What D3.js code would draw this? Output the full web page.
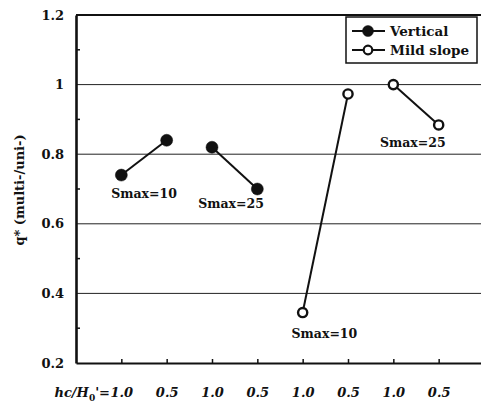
<!DOCTYPE html>
<html><head><meta charset="utf-8">
<script src="https://cdn.jsdelivr.net/npm/d3@7"></script>
<style>
body{margin:0;background:#fff;}
</style></head>
<body><svg id="c" width="481" height="405" style="font-family:'DejaVu Serif';font-weight:bold;"></svg>
<script>
// ---- data ----
const xTickLabels = ["1.0","0.5","1.0","0.5","1.0","0.5","1.0","0.5"];
const xPositions = [1,2,3,4,5,6,7,8];
const verticalSmax10 = [0.74, 0.84];
const verticalSmax25 = [0.82, 0.70];
const mildSmax10 = [0.345, 0.973];
const mildSmax25 = [1.0, 0.884];
const yTicks = [0.2, 0.4, 0.6, 0.8, 1, 1.2];
const yMinorTicks = [0.3, 0.5, 0.7, 0.9, 1.1];
const groups = [
  {name:"Vertical", pos:[1,2], values:verticalSmax10, label:"Smax=10"},
  {name:"Vertical", pos:[3,4], values:verticalSmax25, label:"Smax=25"},
  {name:"Mild slope", pos:[5,6], values:mildSmax10, label:"Smax=10"},
  {name:"Mild slope", pos:[7,8], values:mildSmax25, label:"Smax=25"}
];

const FONT = "'DejaVu Serif', serif";
const svg = d3.select("#c");
const mLeft=76, mRight=484, mTop=15, mBottom=363;
const x = d3.scaleLinear().domain([0,9]).range([mLeft,mRight]);
const y = d3.scaleLinear().domain([0.2,1.2]).range([mBottom,mTop]);

// gridlines
svg.append("g").selectAll("line").data(yTicks.filter(d=>d>0.2&&d<1.2)).join("line")
  .attr("x1",mLeft).attr("x2",481).attr("y1",d=>y(d)).attr("y2",d=>y(d))
  .attr("stroke","#222").attr("stroke-width",1);
// top border
svg.append("line").attr("x1",mLeft).attr("x2",481).attr("y1",y(1.2)).attr("y2",y(1.2))
  .attr("stroke","#111").attr("stroke-width",2.2);

// y axis
const yAxis = d3.axisLeft(y).tickValues(yTicks).tickSize(0).tickPadding(12)
  .tickFormat(d=>d===1?"1":d3.format(".1f")(d));
const gy = svg.append("g").attr("transform",`translate(${mLeft},0)`).call(yAxis);
gy.attr("font-family",null).attr("font-size",null);
gy.select(".domain").attr("stroke","#111").attr("stroke-width",2.6);
gy.selectAll("text").style("font-family",FONT).style("font-weight","bold").style("font-size","13px").attr("fill","#111");
// minor inward ticks
svg.append("g").selectAll("line").data(yMinorTicks).join("line")
  .attr("x1",mLeft).attr("x2",mLeft+4).attr("y1",d=>y(d)).attr("y2",d=>y(d))
  .attr("stroke","#111").attr("stroke-width",1.5);

// x axis
const xAxis = d3.axisBottom(x).tickValues(xPositions).tickSizeInner(-4).tickSizeOuter(0).tickPadding(25)
  .tickFormat((d,i)=>xTickLabels[i]);
const gx = svg.append("g").attr("transform",`translate(0,${mBottom})`).call(xAxis);
gx.attr("font-family",null).attr("font-size",null);
gx.select(".domain").attr("stroke","#111").attr("stroke-width",2.2);
gx.selectAll(".tick line").attr("stroke","#111").attr("stroke-width",1.5);
gx.selectAll("text").style("font-family",FONT).style("font-weight","bold")
  .style("font-size","13px").style("font-style","italic").attr("fill","#111");
// prefix for first tick label
const firstTxt = gx.select(".tick text").node();
const fw = firstTxt.getComputedTextLength();
const pre = svg.append("text").attr("x",x(1)-fw/2).attr("y",397)
  .attr("text-anchor","end").style("font-family",FONT).style("font-weight","bold")
  .style("font-size","13px").style("font-style","italic").attr("fill","#111");
pre.append("tspan").text("hc/H");
pre.append("tspan").text("0").attr("dy",4).style("font-size","9px").style("font-style","normal");
pre.append("tspan").text("'=").attr("dy",-4);

// y label
svg.append("text").attr("transform","translate(24,190) rotate(-90)")
  .attr("text-anchor","middle").style("font-family",FONT).style("font-weight","bold")
  .style("font-size","13px").attr("fill","#111")
  .text("q* (multi-/uni-)");

// data lines and markers
const line = d3.line().x(d=>x(d[0])).y(d=>y(d[1]));
groups.forEach(g=>{
  const pts = g.pos.map((p,i)=>[p,g.values[i]]);
  svg.append("path").attr("d",line(pts)).attr("fill","none").attr("stroke","#111").attr("stroke-width",2);
  svg.append("g").selectAll("circle").data(pts).join("circle")
    .attr("cx",d=>x(d[0])).attr("cy",d=>y(d[1]))
    .attr("r",g.name==="Vertical"?6:4.6)
    .attr("fill",g.name==="Vertical"?"#111":"#fff")
    .attr("stroke","#111").attr("stroke-width",g.name==="Vertical"?0.5:2.4);
});

// Smax annotations (anchor positions in data units)
const ann = [
  {g:0, xv:1.5, yv:0.674},
  {g:1, xv:3.42, yv:0.645},
  {g:2, xv:5.48, yv:0.272},
  {g:3, xv:7.43, yv:0.821}
];
svg.append("g").selectAll("text").data(ann).join("text")
  .attr("x",d=>x(d.xv)).attr("y",d=>y(d.yv))
  .attr("text-anchor","middle").style("font-family",FONT).style("font-weight","bold")
  .style("font-size","12.5px").attr("fill","#111")
  .text(d=>groups[d.g].label);

// legend
const lg = svg.append("g");
lg.append("rect").attr("x",346).attr("y",17).attr("width",131).attr("height",46)
  .attr("fill","#fff").attr("stroke","#111").attr("stroke-width",1.5);
const legendItems = [{name:"Vertical", yy:31},{name:"Mild slope", yy:50}];
legendItems.forEach(it=>{
  lg.append("line").attr("x1",352).attr("x2",385).attr("y1",it.yy).attr("y2",it.yy)
    .attr("stroke","#111").attr("stroke-width",2);
  lg.append("circle").attr("cx",368).attr("cy",it.yy)
    .attr("r",it.name==="Vertical"?5.5:4.3)
    .attr("fill",it.name==="Vertical"?"#111":"#fff")
    .attr("stroke","#111").attr("stroke-width",it.name==="Vertical"?0.5:2.2);
  lg.append("text").attr("x",390).attr("y",it.yy+5).style("font-family",FONT).style("font-weight","bold")
    .style("font-size","13.5px").attr("fill","#111").text(it.name);
});
</script></body></html>
